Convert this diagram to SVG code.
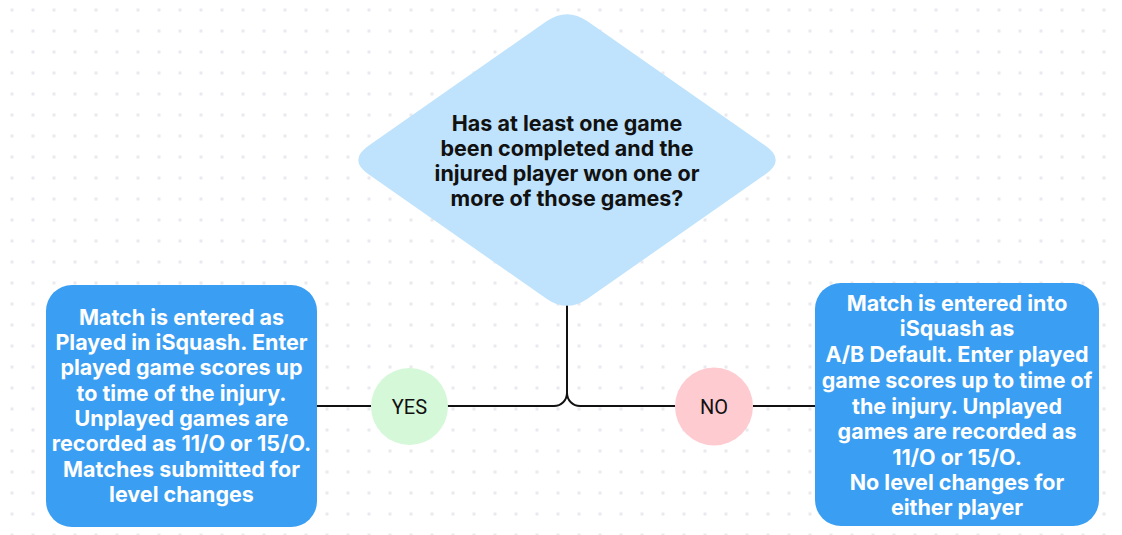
<svg xmlns="http://www.w3.org/2000/svg" width="1122" height="535" viewBox="0 0 1122 535">
  <defs>
    <pattern id="dots" x="0" y="0" width="21" height="21" patternUnits="userSpaceOnUse">
      <rect x="10.5" y="8.5" width="3" height="3" fill="#e9e9ef"/>
    </pattern>
  </defs>
  <style>
    .box { fill: #3a9ef2; }
    .boxtxt { font-family: "Inter", "Liberation Sans", sans-serif; font-weight: 700; font-size: 21.5px; fill: #ffffff; text-anchor: middle; dominant-baseline: central; }
    .qtxt { font-family: "Inter", "Liberation Sans", sans-serif; font-weight: 700; font-size: 21.5px; fill: #111111; text-anchor: middle; dominant-baseline: central; }
    .lbl { font-family: "Roboto", "Liberation Sans", sans-serif; font-size: 20px; fill: #111111; text-anchor: middle; dominant-baseline: central; }
    .conn { fill: none; stroke: #111111; stroke-width: 2; }
  </style>
  <rect width="1122" height="535" fill="#ffffff"/>
  <rect width="1122" height="535" fill="url(#dots)"/>

  <g id="connectors">
    <path class="conn" d="M567,305 V393 A13,13 0 0 1 554,406 H447"/>
    <path class="conn" d="M567,393 A13,13 0 0 0 580,406 H675"/>
    <path class="conn" d="M317,406 H371"/>
    <path class="conn" d="M753,406 H815"/>
  </g>

  <g id="question">
    <path fill="#bfe3fc" d="M546.5,21.3 Q567,7 587.5,21.3 L765.5,145.7 Q786,160 765.5,174.3 L587.5,298.7 Q567,313 546.5,298.7 L368.5,174.3 Q348,160 368.5,145.7 Z"/>
    <text class="qtxt" x="567" y="123">Has at least one game</text>
    <text class="qtxt" x="567" y="148">been completed and the</text>
    <text class="qtxt" x="567" y="173">injured player won one or</text>
    <text class="qtxt" x="567" y="198">more of those games?</text>
  </g>

  <g id="yes">
    <circle cx="409.5" cy="406.5" r="38.5" fill="#d4f8d8"/>
    <text class="lbl" x="409.5" y="406.5">YES</text>
  </g>

  <g id="no">
    <circle cx="714" cy="406.5" r="39" fill="#fecbd0"/>
    <text class="lbl" x="714" y="406.5">NO</text>
  </g>

  <g id="played">
    <rect class="box" x="46" y="285" width="271" height="242" rx="26"/>
    <text class="boxtxt" x="181.5" y="317">Match is entered as</text>
    <text class="boxtxt" x="181.5" y="342">Played in iSquash. Enter</text>
    <text class="boxtxt" x="181.5" y="367">played game scores up</text>
    <text class="boxtxt" x="181.5" y="393">to time of the injury.</text>
    <text class="boxtxt" x="181.5" y="418">Unplayed games are</text>
    <text class="boxtxt" x="181.5" y="443">recorded as 11/O or 15/O.</text>
    <text class="boxtxt" x="181.5" y="469">Matches submitted for</text>
    <text class="boxtxt" x="181.5" y="494">level changes</text>
  </g>

  <g id="default">
    <rect class="box" x="815" y="283" width="284" height="243" rx="26"/>
    <text class="boxtxt" x="957" y="303">Match is entered into</text>
    <text class="boxtxt" x="957" y="328">iSquash as</text>
    <text class="boxtxt" x="957" y="354">A/B Default. Enter played</text>
    <text class="boxtxt" x="957" y="380">game scores up to time of</text>
    <text class="boxtxt" x="957" y="406">the injury. Unplayed</text>
    <text class="boxtxt" x="957" y="431">games are recorded as</text>
    <text class="boxtxt" x="957" y="457">11/O or 15/O.</text>
    <text class="boxtxt" x="957" y="482">No level changes for</text>
    <text class="boxtxt" x="957" y="507">either player</text>
  </g>
</svg>
